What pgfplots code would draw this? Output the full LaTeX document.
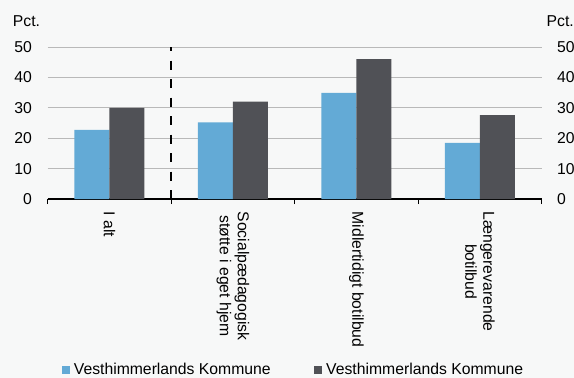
\documentclass[border=0pt]{standalone}
\usepackage{pgfplots}
\pgfplotsset{compat=1.18}
\usepackage{fontspec}
\setmainfont{Liberation Sans}
\definecolor{bg}{RGB}{247,248,248}
\definecolor{cblue}{RGB}{99,170,214}
\definecolor{cdark}{RGB}{80,81,86}
\definecolor{cgrid}{RGB}{185,185,185}
\newcommand{\ff}{\fontsize{15.8}{18}\selectfont}
\begin{document}
\ff
\begin{tikzpicture}
\fill[bg] (-47.7bp,-179bp) rectangle (526.3bp,199bp);
\useasboundingbox (-47.7bp,-179bp) rectangle (526.3bp,199bp);
\begin{axis}[
  name=ax,
  scale only axis, width=494bp, height=152bp,
  at={(0,0)}, anchor=south west,
  ymin=0, ymax=50, xmin=-0.5, xmax=3.5,
  ybar=0pt, bar width=35bp,
  axis x line*=bottom, axis y line*=left,
  x axis line style={black, line width=1.6bp},
  y axis line style={draw=none},
  ytick={0,10,...,50},
  ytick style={draw=none},
  ymajorgrids, grid style={cgrid, line width=0.8bp},
  xtick={0,1,2,3},
  xticklabels={I alt, {Socialpædagogisk\\støtte i eget hjem}, Midlertidigt botilbud, {Længerevarende\\botilbud}},
  major x tick style={draw=none},
  minor xtick={-0.5,0.5,1.5,2.5,3.5},
  minor x tick style={black, line width=1.2bp},
  minor tick length=5bp, tick align=outside,
  xticklabel style={rotate=-90, anchor=west, align=center, font=\ff, xshift=3bp},
  yticklabel style={font=\ff, xshift=-6bp},
  /pgf/number format/assume math mode=true,
  legend columns=2,
  legend style={at={(0,0)}, anchor=west, xshift=14bp, yshift=-171bp, draw=none, fill=none, font=\ff, inner sep=0pt,
    nodes={inner xsep=1.5bp, inner ysep=0pt}},
  legend image code/.code={\fill[#1] (0bp,-4bp) rectangle (8bp,4bp);\path (10.5bp,0);},
  /tikz/every even column/.append style={column sep=42bp},
]
\addplot[fill=cblue, draw=none] coordinates {(0,22.7) (1,25.2) (2,34.9) (3,18.5)};
\addplot[fill=cdark, draw=none] coordinates {(0,30.0) (1,32.0) (2,46.0) (3,27.6)};
\legend{Vesthimmerlands Kommune, Vesthimmerlands Kommune}
\draw[black, line width=2.6bp, dash pattern=on 9bp off 9.5bp, dash phase=5bp] (axis cs:0.5,50) -- (axis cs:0.5,0);
\end{axis}
\begin{axis}[
  scale only axis, width=494bp, height=152bp,
  at={(0,0)}, anchor=south west,
  ymin=0, ymax=50, xmin=-0.5, xmax=3.5,
  hide x axis, axis y line*=right,
  y axis line style={draw=none}, ytick style={draw=none},
  ytick={0,10,...,50},
  yticklabel style={font=\ff, xshift=10bp},
  /pgf/number format/assume math mode=true,
]
\addplot[draw=none] coordinates {(0,0)};
\end{axis}
\node[anchor=west, inner sep=0pt, font=\ff] at (-35bp,178bp) {Pct.};
\node[anchor=east, inner sep=0pt, font=\ff] at (526.3bp,178bp) {Pct.};
\end{tikzpicture}
\end{document}
